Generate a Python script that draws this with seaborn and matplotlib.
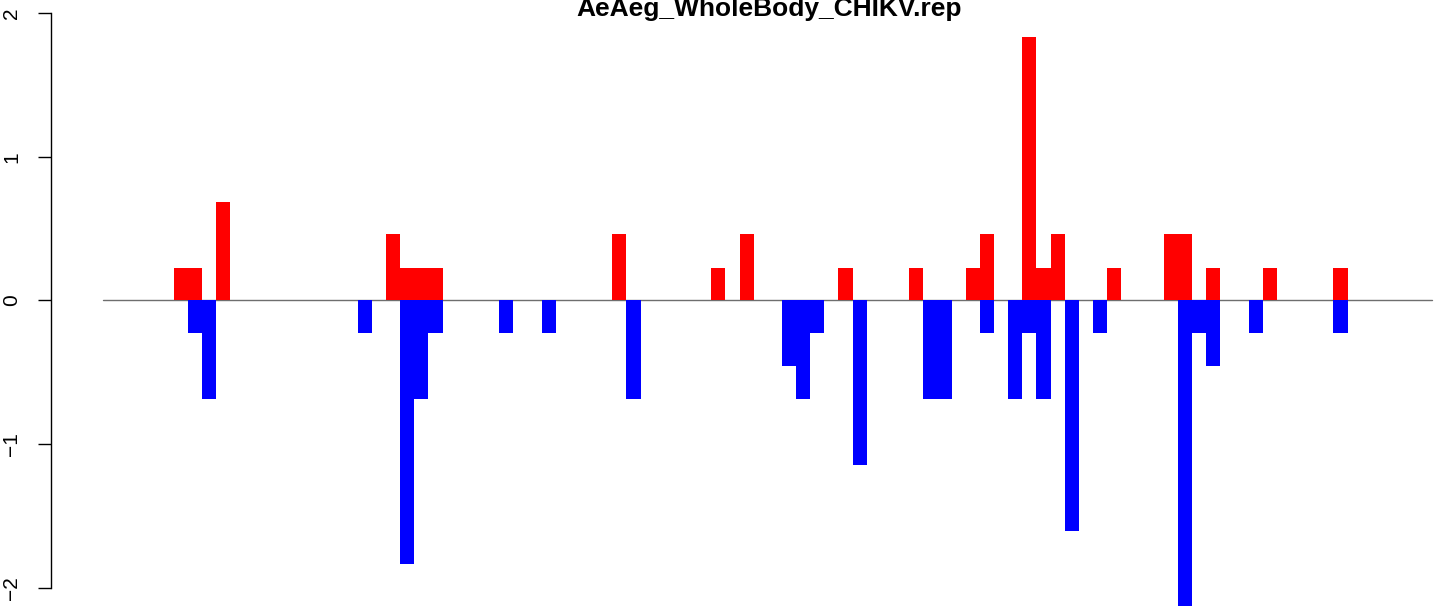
import numpy as np
import pandas as pd
import matplotlib
matplotlib.use("Agg")
import matplotlib.pyplot as plt
import seaborn as sns

# chart data: 94 position slots, positive (red) and negative (blue) values
title = "AeAeg_WholeBody_CHIKV.rep"
n_slots = 94
red_pos = [5, 6, 8, 20, 21, 22, 23, 36, 43, 45, 52, 57, 61, 62, 65, 66, 67,
           71, 75, 76, 78, 82, 87]
red_val = [0.229, 0.229, 0.688, 0.459, 0.229, 0.229, 0.229, 0.459, 0.229,
           0.459, 0.229, 0.229, 0.229, 0.459, 1.835, 0.229, 0.459, 0.229,
           0.459, 0.459, 0.229, 0.229, 0.229]
blue_pos = [6, 7, 18, 21, 22, 23, 28, 31, 37, 48, 49, 50, 53, 58, 59, 62, 64,
            65, 66, 68, 70, 76, 77, 78, 81, 87]
blue_val = [-0.229, -0.688, -0.229, -1.835, -0.688, -0.229, -0.229, -0.229,
            -0.688, -0.459, -0.688, -0.229, -1.147, -0.688, -0.688, -0.229,
            -0.688, -0.229, -0.688, -1.606, -0.229, -2.294, -0.229, -0.459,
            -0.229, -0.229]
y_ticks = [-2, -1, 0, 1, 2]

up = np.zeros(n_slots)
up[red_pos] = red_val
down = np.zeros(n_slots)
down[blue_pos] = blue_val
df = pd.DataFrame({"pos": np.arange(n_slots), "up": up, "down": down})

sns.set_style("white")
plt.rcParams['font.family'] = ['Liberation Sans', 'DejaVu Sans']
plt.rcParams['text.color'] = 'black'
plt.rcParams['ytick.color'] = 'black'

W, H = 1444, 606
fig = plt.figure(figsize=(W / 100, H / 100), dpi=100)
left_px = 51
start_px = 103.2   # left edge of the first slot
ax = fig.add_axes([left_px / W, 0, (W - left_px) / W, 1])

ax.plot([-0.5, n_slots - 0.5], [0, 0], color="#6e6e6e", lw=1.0, zorder=1)
sns.barplot(data=df, x="pos", y="up", color="red", width=1, saturation=1,
            linewidth=0, errorbar=None, ax=ax, zorder=2)
sns.barplot(data=df, x="pos", y="down", color="blue", width=1, saturation=1,
            linewidth=0, errorbar=None, ax=ax, zorder=2)

px_per_slot = 14.14
ax.set_xlim(-0.5 - (start_px - left_px) / px_per_slot,
            -0.5 + (W - start_px) / px_per_slot)
ax.set_ylim(-2.125, 2.09)

for s in ["top", "right", "bottom"]:
    ax.spines[s].set_visible(False)
ax.spines["left"].set_bounds(-2, 2)
ax.spines["left"].set_linewidth(1.0)
ax.spines["left"].set_color("black")
ax.set_xticks([])
ax.set_xlabel("")
ax.set_ylabel("")
ax.set_yticks(y_ticks)
ax.set_yticklabels([str(t).replace("-", "\u2212") for t in y_ticks],
                   rotation=90, va="center", fontsize=15, color="black")
ax.tick_params(axis="y", length=9.4, width=1.0, pad=12, color="black",
               labelcolor="black", left=True)

fig.text(769 / W, 1 - 16 / H, title, ha="center", va="baseline",
         fontsize=19, fontweight="bold", color="black")

fig.savefig("out.png", dpi=100)
